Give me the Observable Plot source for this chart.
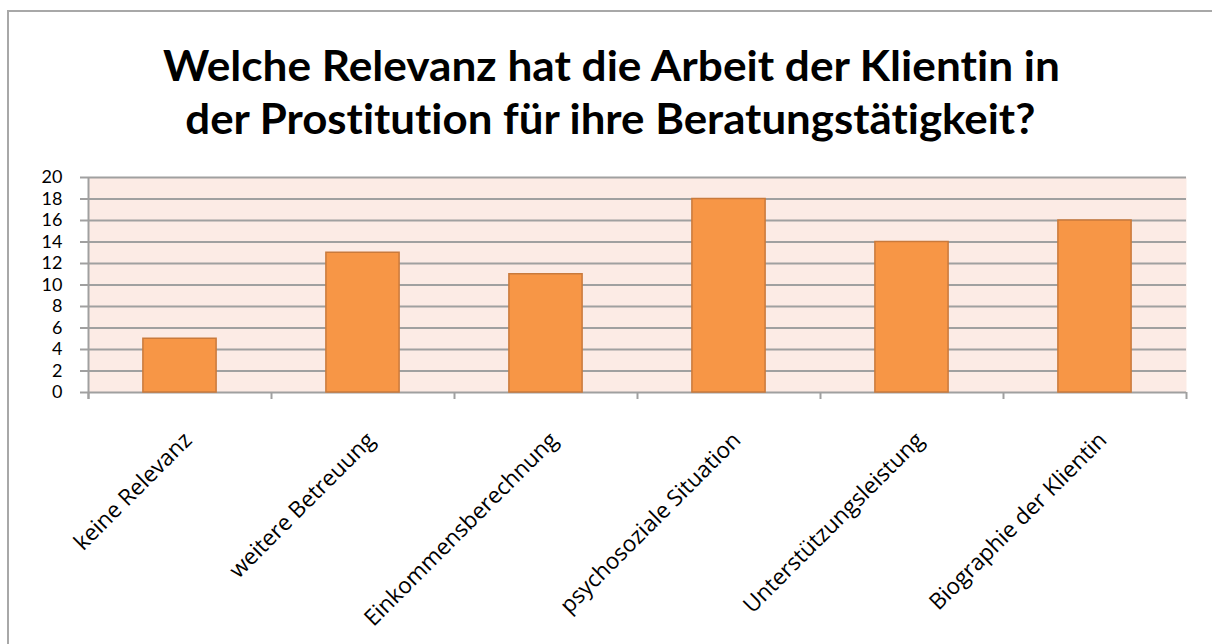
<!DOCTYPE html>
<html>
<head>
<meta charset="utf-8">
<script src="https://cdn.jsdelivr.net/npm/d3@7"></script>
<script src="https://cdn.jsdelivr.net/npm/@observablehq/plot@0.6"></script>
<style>
  html, body { margin: 0; padding: 0; background: #fff; width: 1212px; height: 644px; overflow: hidden; }
  #frame { position: absolute; left: 7px; top: 10px; width: 1400px; height: 800px; border: 2px solid #a8a8a8; box-sizing: border-box; }
  .tline { position: absolute; left: 0; width: 1212px; text-align: center; font-family: Lato, "Open Sans", sans-serif; font-weight: 700; font-size: 42px; line-height: 42px; color: #000; white-space: nowrap; font-variant-ligatures: none; }
  .tline span { display: inline-block; transform-origin: center; }
  #chart { position: absolute; left: 0; top: 160px; }
  #chart svg text { font-variant-ligatures: none; }
</style>
</head>
<body>
<div id="frame"></div>
<div class="tline" id="t1" style="top:44px"><span>Welche Relevanz hat die Arbeit der Klientin in</span></div>
<div class="tline" id="t2" style="top:97px"><span>der Prostitution für ihre Beratungstätigkeit?</span></div>
<div id="chart"></div>
<script>
const categories = ["keine Relevanz", "weitere Betreuung", "Einkommensberechnung", "psychosoziale Situation", "Unterstützungsleistung", "Biographie der Klientin"];
const values = [5, 13, 11, 18, 14, 16];
const yTicks = [0, 2, 4, 6, 8, 10, 12, 14, 16, 18, 20];

const data = categories.map((c, i) => ({category: c, index: i, value: values[i]}));
const boundaries = d3.range(categories.length + 1);

// fit title widths
[["t1", 897, 611], ["t2", 850, 610]].forEach(([id, w, cx]) => {
  const s = document.querySelector("#" + id + " span");
  const r = s.getBoundingClientRect();
  s.style.transform = `translateX(${cx - 606}px) scaleX(${w / r.width})`;
});

const plot = Plot.plot({
  width: 1212,
  height: 484,
  marginLeft: 88,
  marginRight: 26,
  marginTop: 17,
  marginBottom: 252,
  style: {fontFamily: "Lato, 'Open Sans', sans-serif", background: "transparent", color: "#000"},
  x: {type: "linear", domain: [0, categories.length], axis: null},
  y: {domain: [0, 20], axis: null},
  marks: [
    Plot.frame({fill: "#fcebe5", stroke: null}),
    Plot.gridY(yTicks, {stroke: "#a0a0a0", strokeOpacity: 1, strokeWidth: 2}),
    Plot.axisY(yTicks, {label: null, tickSize: 8, tickPadding: 18, stroke: "#a0a0a0", strokeWidth: 2, fill: "#000", fontSize: 18, tickFormat: d => String(d)}),
    Plot.ruleX([0], {y1: -0.65, y2: 20, stroke: "#a0a0a0", strokeWidth: 2}),
    Plot.ruleX(boundaries, {y1: -0.65, y2: 0, stroke: "#a0a0a0", strokeWidth: 2}),
    Plot.rectY(data, {x1: d => d.index + 0.3, x2: d => d.index + 0.7, y: "value", fill: "#f79646", stroke: "#c97a3c", strokeWidth: 1.5}),
    Plot.text(data, {x: d => d.index + 0.5, y: 0, text: "category", rotate: -45, textAnchor: "end", lineAnchor: "middle", dx: 8, dy: 44, fontSize: 22.5, fontFamily: "'Open Sans', sans-serif", fill: "#000"})
  ]
});
document.getElementById("chart").appendChild(plot);
</script>
</body>
</html>
